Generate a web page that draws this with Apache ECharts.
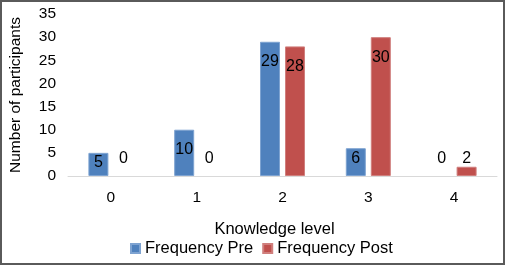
<!DOCTYPE html>
<html>
<head>
<meta charset="utf-8">
<script src="https://cdn.jsdelivr.net/npm/echarts@6/dist/echarts.min.js"></script>
<style>
  body { margin: 0; background: #fff; }
  #chart { width: 505px; height: 265px; position: absolute; left: 0; top: 0; }
  .frame { position: absolute; left: 0; top: 0; width: 505px; height: 265px;
           box-sizing: border-box; border: 2px solid #5a5a5a; pointer-events: none; }
</style>
</head>
<body>
<div id="chart"></div>
<div class="frame"></div>
<script>
const levels = ['0', '1', '2', '3', '4'];
const freqPre = [5, 10, 29, 6, 0];
const freqPost = [0, 0, 28, 30, 2];

const chart = echarts.init(document.getElementById('chart'));
const font = 'Liberation Sans, Arial, sans-serif';

// label placement roughly like Excel's "inside end": tiny bars get it above
function withLabels(values) {
  return values.map(v => {
    let label;
    if (v === 0) label = { position: 'top', distance: 9 };
    else if (v < 5) label = { position: 'top', distance: 0 };
    else if (v < 10) label = { position: 'insideTop', distance: 2 };
    else label = { position: 'insideTop', distance: 12 };
    return { value: v, label: label, itemStyle: v === 0 ? { borderWidth: 0 } : {} };
  });
}

const option = {
  animation: false,
  grid: { left: 64, right: 8, top: 14, bottom: 89 },
  xAxis: {
    type: 'category',
    data: levels,
    name: 'Knowledge level',
    nameLocation: 'middle',
    nameGap: 45,
    nameTextStyle: { color: '#000', fontSize: 16.5, fontFamily: font, padding: [0, 16, 0, 0] },
    axisLine: { lineStyle: { color: '#d9d9d9', width: 1 } },
    axisTick: { show: false },
    axisLabel: { color: '#000', fontSize: 15.5, fontFamily: font, margin: 14 }
  },
  yAxis: {
    type: 'value',
    min: 0,
    max: 35,
    interval: 5,
    name: 'Number of participants',
    nameLocation: 'middle',
    nameGap: 44,
    nameTextStyle: { color: '#000', fontSize: 15.5, fontFamily: font },
    axisLine: { show: false },
    axisTick: { show: false },
    splitLine: { show: false },
    axisLabel: { color: '#000', fontSize: 15.5, fontFamily: font, margin: 12 }
  },
  legend: {
    bottom: 3,
    left: 125,
    itemWidth: 9,
    itemHeight: 9,
    itemGap: 9,
    icon: 'rect',
    textStyle: { color: '#000', fontSize: 16.5, fontFamily: font },
    data: ['Frequency Pre', 'Frequency Post']
  },
  series: [
    {
      name: 'Frequency Pre',
      type: 'bar',
      data: withLabels(freqPre),
      barWidth: 20,
      barGap: '25%',
      itemStyle: { color: '#4f81bd', borderColor: '#7ea3d1', borderWidth: 1 },
      label: { show: true, color: '#000', fontSize: 16, fontFamily: font }
    },
    {
      name: 'Frequency Post',
      type: 'bar',
      data: withLabels(freqPost),
      barWidth: 20,
      barGap: '25%',
      itemStyle: { color: '#c0504d', borderColor: '#d07f7d', borderWidth: 1 },
      label: { show: true, color: '#000', fontSize: 16, fontFamily: font }
    }
  ]
};

chart.setOption(option);
</script>
</body>
</html>
